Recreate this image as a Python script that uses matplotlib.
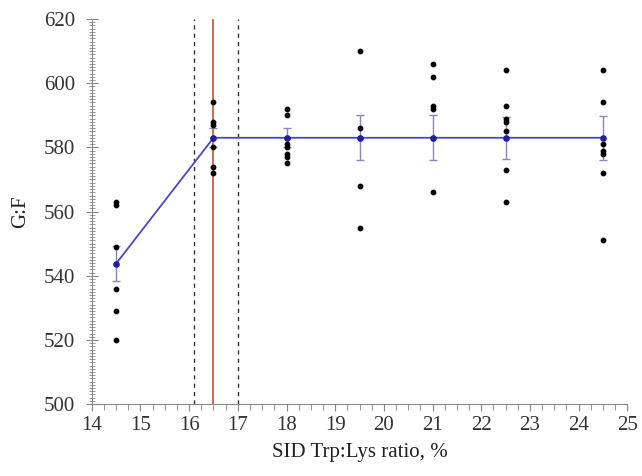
import matplotlib.pyplot as plt
from matplotlib.ticker import MultipleLocator

plt.rcParams['font.family'] = ['Liberation Serif', 'DejaVu Serif']

# observed pens
x_obs = [14.5] * 6 + [16.5] * 7 + [18] * 8 + [19.5] * 5 + [21] * 6 + [22.5] * 7 + [24.5] * 7
y_obs = [563, 562, 549, 536, 529, 520,
         594, 588, 587, 583, 580, 574, 572,
         592, 590, 583, 581, 580, 578, 577, 575,
         610, 586, 583, 568, 555,
         606, 602, 593, 592, 583, 566,
         604, 593, 589, 588, 585, 573, 563,
         604, 594, 581, 579, 578, 572, 551]

# means and SE
ratio = [14.5, 16.5, 18, 19.5, 21, 22.5, 24.5]
gf_mean = [543.8, 583, 583, 583, 583, 583, 583]
gf_se = [5.5, 3.0, 3.0, 7.0, 7.0, 6.5, 6.8]

# broken-line fit
fit_x = [14.5, 16.5, 24.5]
fit_y = [543.8, 583, 583]
bp = 16.5
bp_ci = [16.1, 17.0]

fig = plt.figure(figsize=(6.42, 4.76), dpi=100)
ax = fig.add_axes([0.143, 0.151, 0.834, 0.809])

ax.scatter(x_obs, y_obs, s=10, color='black', zorder=3)
ax.errorbar(ratio, gf_mean, yerr=gf_se, fmt='none', ecolor='#8888bb',
            elinewidth=1, capsize=3, zorder=2)
ax.plot(fit_x, fit_y, color='#4848c8', lw=1.3, zorder=2)
ax.scatter(ratio, gf_mean, s=14, color='#2020a0', zorder=4)

ax.axvline(bp, color='#c8603c', lw=1.3, zorder=1)
for v in bp_ci:
    ax.axvline(v, color='#333333', lw=1, ls=(0, (3, 3)), zorder=1)

ax.set_xlim(14, 25)
ax.set_ylim(500, 620)
ax.xaxis.set_major_locator(MultipleLocator(1))
ax.xaxis.set_minor_locator(MultipleLocator(0.25))
ax.yaxis.set_major_locator(MultipleLocator(20))
ax.yaxis.set_minor_locator(MultipleLocator(1))

ax.spines['top'].set_visible(False)
ax.spines['right'].set_visible(False)
for s in ['left', 'bottom']:
    ax.spines[s].set_color('#888888')

ax.tick_params(axis='y', which='both', direction='inout', color='#888888',
               labelsize=15, labelcolor='#333333', pad=8)
ax.tick_params(axis='y', which='major', length=8)
ax.tick_params(axis='y', which='minor', length=5)
ax.tick_params(axis='x', which='both', direction='out', color='#888888',
               labelsize=15, labelcolor='#333333')
ax.tick_params(axis='x', which='major', length=5)
ax.tick_params(axis='x', which='minor', length=4)

ax.set_xlabel('SID Trp:Lys ratio, %', fontsize=15, color='#222222', labelpad=6)
ax.set_ylabel('G:F', fontsize=15, color='#222222', labelpad=10)

fig.savefig('out.png')
